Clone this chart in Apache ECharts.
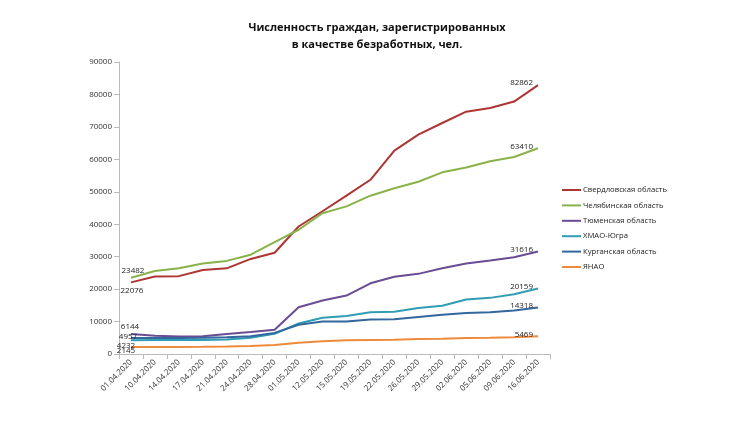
<!DOCTYPE html>
<html>
<head>
<meta charset="utf-8">
<script src="https://cdn.jsdelivr.net/npm/echarts@6/dist/echarts.min.js"></script>
<style>
  html, body { margin: 0; padding: 0; background: #fff; }
  #chart { width: 735px; height: 441px; }
</style>
</head>
<body>
<div id="chart"></div>
<script>
var dates = ['01.04.2020', '10.04.2020', '14.04.2020', '17.04.2020', '21.04.2020', '24.04.2020',
    '28.04.2020', '01.05.2020', '12.05.2020', '15.05.2020', '19.05.2020', '22.05.2020',
    '26.05.2020', '29.05.2020', '02.06.2020', '05.06.2020', '09.06.2020', '16.06.2020'];

var sverdlovsk = [22076, 23900, 24000, 25900, 26400, 29300, 31200, 39300, 44000, 48800,
    53700, 62700, 67600, 71200, 74700, 75800, 77800, 82862];
var chelyabinsk = [23482, 25600, 26400, 27900, 28700, 30600, 34500, 38300, 43400, 45500,
    48800, 51100, 53100, 56000, 57500, 59400, 60700, 63410];
var tyumen = [6144, 5600, 5400, 5500, 6200, 6800, 7500, 14400, 16500, 18000,
    21800, 23800, 24700, 26400, 27900, 28800, 29800, 31616];
var hmao = [4232, 4300, 4300, 4300, 4500, 5000, 6200, 9400, 11200, 11700,
    12900, 13000, 14200, 14900, 16800, 17300, 18400, 20159];
var kurgan = [4957, 4900, 4900, 5000, 5200, 5500, 6500, 9000, 10000, 10000,
    10600, 10700, 11400, 12100, 12600, 12900, 13400, 14318];
var yanao = [2145, 2150, 2150, 2200, 2300, 2500, 2800, 3500, 3900, 4200,
    4300, 4400, 4600, 4700, 4900, 5000, 5200, 5469];

var names = ['Свердловская область', 'Челябинская область', 'Тюменская область',
    'ХМАО-Югра', 'Курганская область', 'ЯНАО'];
var colors = ['#AD3533', '#8AB24A', '#6A4C93', '#2F9DB3', '#33679D', '#EE8A3B'];
var values = [sverdlovsk, chelyabinsk, tyumen, hmao, kurgan, yanao];

// where the first-point labels sit relative to the point
var startOffsets = [[1, 8], [2, -7], [-1, -7], [-5, 5], [-3, -1], [-5, 4]];

var labelStyle = { show: true, color: '#222', fontSize: 8, fontFamily: 'Open Sans' };

function buildData(arr, k) {
    return arr.map(function (v, i) {
        if (i === 0) {
            return { value: v, label: Object.assign({}, labelStyle, {
                position: 'inside', offset: startOffsets[k] }) };
        }
        if (i === arr.length - 1) {
            return { value: v, label: Object.assign({}, labelStyle, {
                position: 'left', distance: 5, offset: [0, -2] }) };
        }
        return v;
    });
}

var series = names.map(function (n, k) {
    return {
        name: n,
        type: 'line',
        data: buildData(values[k], k),
        symbol: 'circle',
        symbolSize: 0.01,
        showSymbol: true,
        lineStyle: { width: 2, color: colors[k] },
        itemStyle: { color: colors[k] },
        label: { show: false },
        animation: false
    };
});

var myChart = echarts.init(document.getElementById('chart'));
option = {
    backgroundColor: '#fff',
    textStyle: { fontFamily: 'Open Sans' },
    title: {
        text: 'Численность граждан, зарегистрированных\nв качестве безработных, чел.',
        left: 372,
        top: 14,
        textAlign: 'center',
        textStyle: { fontSize: 11, fontWeight: 'bold', color: '#111', lineHeight: 17, fontFamily: 'Open Sans' }
    },
    legend: {
        orient: 'vertical',
        left: 557,
        top: 181,
        icon: 'rect',
        itemWidth: 19,
        itemHeight: 2,
        itemGap: 7.4,
        textStyle: { fontSize: 7.7, color: '#222', padding: [0, 0, 0, -3] },
        data: names
    },
    grid: { left: 119, right: 185, top: 62, bottom: 87 },
    xAxis: {
        type: 'category',
        data: dates,
        boundaryGap: true,
        axisLine: { lineStyle: { color: '#bbb' } },
        axisTick: { show: true, lineStyle: { color: '#bbb' } },
        axisLabel: { rotate: 45, fontSize: 8, color: '#333', margin: 7, interval: 0 }
    },
    yAxis: {
        type: 'value',
        min: 0,
        max: 90000,
        interval: 10000,
        axisLine: { show: true, lineStyle: { color: '#bbb' } },
        axisTick: { show: true, lineStyle: { color: '#bbb' } },
        splitLine: { show: false },
        axisLabel: { fontSize: 8, color: '#333', margin: 7, formatter: function (v) { return String(v); } }
    },
    series: series
};
if (option && typeof option === 'object') {
    myChart.setOption(option, true);
}
</script>
</body>
</html>
